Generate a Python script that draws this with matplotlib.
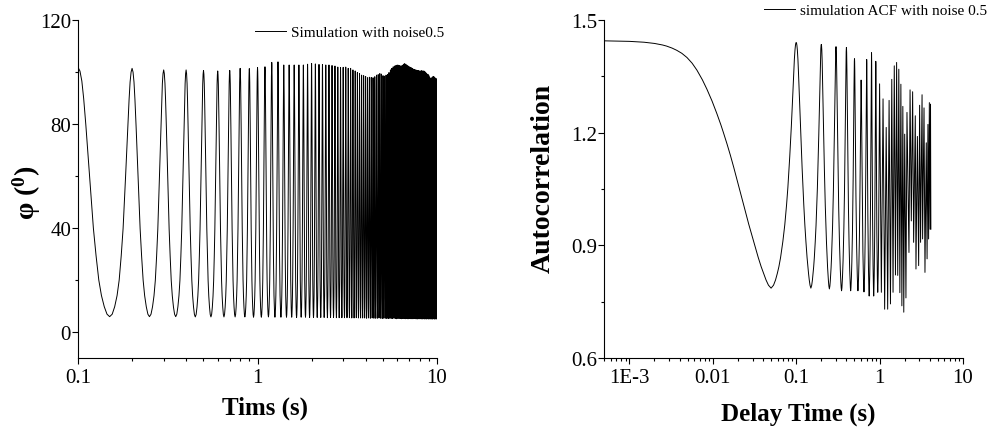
import numpy as np
import matplotlib
matplotlib.use('Agg')
import matplotlib.pyplot as plt
from matplotlib.ticker import LogLocator, NullFormatter

plt.rcParams['font.family'] = ['Liberation Serif', 'DejaVu Serif']
plt.rcParams['mathtext.fontset'] = 'custom'
plt.rcParams['mathtext.rm'] = 'Liberation Serif'
plt.rcParams['mathtext.bf'] = 'Liberation Serif:bold'

# ---- left panel: phi(t), one peak every 0.1 s ----
phi_peak_time = np.round(np.arange(1, 101) * 0.1, 2)
phi_peaks = [
    101.8, 101.4, 100.8, 100.8, 100.6, 100.4, 100.6, 101.4, 101.3, 101.7,
    102.0, 103.7, 103.9, 102.7, 102.7, 102.7, 102.7, 102.7, 103.0, 103.3,
    103.1, 102.9, 102.9, 102.7, 102.7, 102.5, 102.3, 101.9, 101.7, 101.8,
    101.9, 101.4, 101.4, 100.8, 100.4, 99.8, 99.4, 98.8, 98.6, 98.3,
    97.8, 98.0, 97.9, 97.8, 98.2, 98.8, 99.0, 99.4, 99.2, 98.6,
    98.4, 98.8, 99.0, 99.8, 100.8, 101.4, 102.0, 102.3, 102.5, 102.7,
    102.6, 102.5, 102.3, 102.6, 103.0, 103.2, 103.0, 102.6, 102.3, 102.0,
    101.8, 101.6, 101.4, 101.1, 101.0, 100.8, 100.7, 100.6, 100.5, 100.4,
    100.4, 100.5, 100.4, 100.4, 100.3, 100.0, 99.6, 99.2, 99.1, 98.6,
    98.0, 97.4, 97.6, 98.0, 98.2, 98.2, 97.9, 97.6, 97.4, 97.2,
]
phi_trough_time = np.round(np.arange(1, 100) * 0.1 + 0.05, 3)
phi_troughs = [
    5.9, 5.9, 5.9, 5.8, 5.8, 5.8, 5.8, 5.8, 5.7, 5.7,
    5.8, 5.7, 5.7, 5.7, 5.7, 5.6, 5.7, 5.7, 5.6, 5.6,
    5.6, 5.6, 5.6, 5.5, 5.6, 5.6, 5.5, 5.5, 5.5, 5.5,
    5.5, 5.5, 5.4, 5.4, 5.5, 5.4, 5.4, 5.4, 5.4, 5.3,
    5.4, 5.3, 5.4, 5.3, 5.3, 5.3, 5.4, 5.3, 5.2, 5.3,
    5.3, 5.2, 5.2, 5.3, 5.2, 5.2, 5.3, 5.2, 5.1, 5.2,
    5.2, 5.2, 5.1, 5.2, 5.2, 5.1, 5.2, 5.1, 5.1, 5.2,
    5.1, 5.1, 5.1, 5.2, 5.1, 5.1, 5.0, 5.1, 5.1, 5.1,
    5.1, 5.0, 5.1, 5.1, 5.0, 5.1, 5.0, 5.1, 5.0, 5.1,
    5.0, 5.1, 5.0, 5.0, 5.1, 5.0, 5.0, 5.1, 5.0,
]
# shape of one half cycle (fraction of the way from peak to trough -> level)
phi_frac = [0, 0.05, 0.1, 0.15, 0.21, 0.32, 0.435, 0.52, 0.61, 0.7, 0.8, 0.9, 1.0]
phi_shape = [1, 0.985, 0.945, 0.875, 0.77, 0.564, 0.355, 0.245, 0.147, 0.085, 0.04, 0.01, 0]

# ---- right panel: ACF, peaks every 0.1 s up to 1 s, then sparse points ----
acf_peak_tau = np.round(np.arange(0, 11) * 0.1, 2)
acf_peaks = [1.445, 1.44, 1.435, 1.429, 1.427, 1.397, 1.34, 1.395, 1.413, 1.39, 1.33]
acf_trough_tau = np.round(np.arange(0, 10) * 0.1 + 0.05, 3)
acf_troughs = [0.786, 0.786, 0.784, 0.779, 0.779, 0.779, 0.776, 0.765, 0.765, 0.775]
acf_frac = [0, 0.01, 0.02, 0.03, 0.04, 0.05, 0.056, 0.065, 0.074, 0.085, 0.098,
            0.113, 0.129, 0.15, 0.17, 0.196, 0.224, 0.25, 0.268, 0.296, 0.325,
            0.356, 0.41, 0.466, 0.54, 0.616, 0.7, 0.76, 0.812, 0.87, 0.93, 1.0]
acf_shape = [1, 0.9993, 0.9972, 0.9937, 0.9888, 0.9825, 0.978, 0.970, 0.961, 0.949,
             0.932, 0.909, 0.881, 0.842, 0.804, 0.756, 0.705, 0.66, 0.629, 0.583,
             0.537, 0.489, 0.41, 0.34, 0.258, 0.19, 0.125, 0.087, 0.06, 0.033,
             0.012, 0]
acf_tail_tau = [1.05, 1.1, 1.15, 1.2, 1.25, 1.3, 1.35, 1.4, 1.45, 1.5, 1.55, 1.6,
                1.65, 1.7, 1.75, 1.8, 1.85, 1.9, 1.95, 2.0, 2.07, 2.13, 2.25, 2.32,
                2.4, 2.49, 2.56, 2.68, 2.73, 2.84, 2.94, 3.02, 3.1, 3.23, 3.28,
                3.41, 3.5, 3.63, 3.71, 3.8, 3.87, 3.95, 4.03, 4.08, 4.12]
acf_tail = [0.775, 1.29, 0.73, 1.214, 0.73, 1.286, 0.744, 1.342, 0.775, 1.378,
            0.821, 1.387, 0.82, 1.369, 0.774, 1.329, 0.739, 1.27, 0.722, 1.196,
            0.76, 1.254, 0.881, 1.314, 0.965, 1.309, 0.908, 1.245, 0.837, 1.19,
            0.846, 1.273, 0.908, 1.301, 0.917, 1.266, 0.828, 1.173, 0.864, 1.222,
            0.917, 1.28, 0.943, 1.276, 0.943]


def build_wave(peak_t, peaks, trough_t, troughs, frac, shape):
    ts, vs = [], []
    for i in range(len(troughs)):
        t0, t1, t2 = peak_t[i], trough_t[i], peak_t[i + 1]
        p0, tr, p1 = peaks[i], troughs[i], peaks[i + 1]
        for f, g in zip(frac, shape):
            ts.append(t0 + f * (t1 - t0))
            vs.append(tr + (p0 - tr) * g)
        for f, g in zip(frac[::-1][1:-1], shape[::-1][1:-1]):
            ts.append(t2 - f * (t2 - t1))
            vs.append(tr + (p1 - tr) * g)
    ts.append(peak_t[-1])
    vs.append(peaks[-1])
    return np.array(ts), np.array(vs)


def style_axes(ax):
    ax.spines['top'].set_visible(False)
    ax.spines['right'].set_visible(False)
    for s in ('left', 'bottom'):
        ax.spines[s].set_linewidth(0.8)
    ax.tick_params(which='major', direction='out', length=4, width=0.8, labelsize=15)
    ax.tick_params(which='minor', direction='out', length=2.5, width=0.8)
    ax.tick_params(axis='y', pad=1)
    ax.tick_params(axis='x', pad=3)


fig = plt.figure(figsize=(9.89, 4.35), dpi=100)

# left
ax1 = fig.add_axes([0.0789, 0.1747, 0.363, 0.777])
t, phi = build_wave(phi_peak_time, phi_peaks, phi_trough_time, phi_troughs,
                    phi_frac, phi_shape)
ax1.plot(t, phi, color='black', lw=0.7, label='Simulation with noise0.5')
ax1.set_xscale('log')
ax1.set_xlim(0.1, 10)
ax1.set_ylim(-10, 120)
ax1.set_xticks([0.1, 1, 10], ['0.1', '1', '10'])
ax1.xaxis.set_minor_locator(LogLocator(base=10, subs=np.arange(2, 10)))
ax1.xaxis.set_minor_formatter(NullFormatter())
ax1.set_yticks([0, 40, 80, 120])
ax1.set_yticks([20, 60, 100], minor=True)
style_axes(ax1)
ax1.set_xlabel('Tims (s)', fontsize=18, fontweight='bold')
ax1.xaxis.set_label_coords(0.521, -0.11)
ax1.set_ylabel(r'φ ($\mathbf{^{0}}$)', fontsize=20, fontweight='bold')
ax1.yaxis.set_label_coords(-0.098, 0.49)
ax1.legend(loc='center left', bbox_to_anchor=(255 / 989, 1 - 33 / 435),
           bbox_transform=fig.transFigure, frameon=False, fontsize=11,
           handlelength=2.0, handletextpad=0.35, borderpad=0, borderaxespad=0)

# right
ax2 = fig.add_axes([0.611, 0.1747, 0.3627, 0.777])
tau, acf = build_wave(acf_peak_tau, acf_peaks, acf_trough_tau, acf_troughs,
                      acf_frac, acf_shape)
tau = np.concatenate([tau, acf_tail_tau])
acf = np.concatenate([acf, acf_tail])
keep = tau > 0
ax2.plot(tau[keep], acf[keep], color='black', lw=0.7,
         label='simulation ACF with noise 0.5')
ax2.set_xscale('log')
ax2.set_xlim(5e-4, 10)
ax2.set_ylim(0.6, 1.5)
ax2.set_xticks([1e-3, 0.01, 0.1, 1, 10], ['1E-3', '0.01', '0.1', '1', '10'])
ax2.xaxis.set_minor_locator(LogLocator(base=10, subs=np.arange(2, 10)))
ax2.xaxis.set_minor_formatter(NullFormatter())
ax2.set_yticks([0.6, 0.9, 1.2, 1.5], ['0.6', '0.9', '1.2', '1.5'])
ax2.set_yticks([0.75, 1.05, 1.35], minor=True)
style_axes(ax2)
ax2.set_xlabel('Delay Time (s)', fontsize=18, fontweight='bold')
ax2.xaxis.set_label_coords(0.54, -0.13)
ax2.set_ylabel('Autocorrelation', fontsize=20, fontweight='bold')
ax2.yaxis.set_label_coords(-0.135, 0.535)
ax2.legend(loc='center right', bbox_to_anchor=(987 / 989, 1 - 11 / 435),
           bbox_transform=fig.transFigure, frameon=False, fontsize=11,
           handlelength=2.0, handletextpad=0.35, borderpad=0, borderaxespad=0)

fig.savefig('out.png', dpi=100)
